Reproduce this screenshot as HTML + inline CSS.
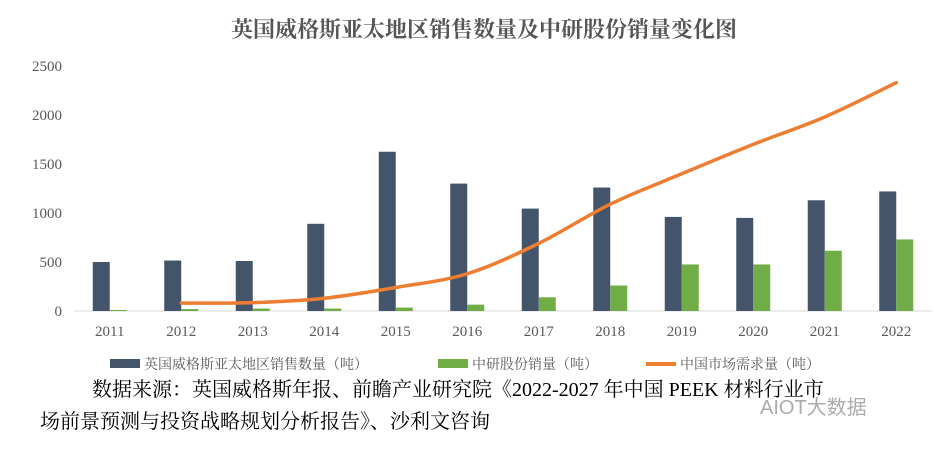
<!DOCTYPE html>
<html><head><meta charset="utf-8"><style>
body{margin:0;background:#fff;width:937px;height:447px;overflow:hidden;font-family:"Liberation Serif","Noto Serif CJK SC",serif}
</style></head><body>
<svg width="937" height="447" xmlns="http://www.w3.org/2000/svg">
<text x="484" y="37" text-anchor="middle" font-size="22" font-weight="bold" fill="#555">英国威格斯亚太地区销售数量及中研股份销量变化图</text>
<g id="axes"></g><g id="bars"></g><g id="line"></g>
<g font-size="14" fill="#595959">
<rect x="110" y="359" width="30" height="9" fill="#44546a"/>
<text x="144" y="369">英国威格斯亚太地区销售数量（吨）</text>
<rect x="438" y="359" width="30" height="9" fill="#70ad47"/>
<text x="472" y="369">中研股份销量（吨）</text>
<line x1="646" y1="364" x2="676" y2="364" stroke="#ed7d31" stroke-width="4"/>
<text x="680" y="369">中国市场需求量（吨）</text>
</g>
<text x="92" y="396" font-size="20" fill="#000">数据来源：英国威格斯年报、前瞻产业研究院《2022-2027 年中国 PEEK 材料行业市</text>
<text x="40" y="428" font-size="20" fill="#000">场前景预测与投资战略规划分析报告》、沙利文咨询</text>
<text x="760" y="414" font-size="20" fill="#888" opacity="0.7" font-family="Liberation Sans,Noto Sans CJK SC,sans-serif">AIOT大数据</text>
</svg>
<script>
const years=["2011","2012","2013","2014","2015","2016","2017","2018","2019","2020","2021","2022"];
const vicat=[500,515,510,890,1625,1300,1045,1260,960,950,1130,1220];
const zhongyan=[10,20,25,25,35,65,140,260,475,475,615,730];
const demand=[null,80,85,130,240,380,690,1090,1400,1700,1980,2330];
const yTicks=[0,500,1000,1500,2000,2500];
const NS="http://www.w3.org/2000/svg";
const x0=74,step=71.5,y0=311,yMax=2500,ph=245;
const X=i=>x0+step*(i+0.5), Y=v=>y0-v/yMax*ph;
function mk(t,a,p){const e=document.createElementNS(NS,t);for(const k in a)e.setAttribute(k,a[k]);p.appendChild(e);return e;}
const ax=document.getElementById('axes'),bg=document.getElementById('bars'),lg=document.getElementById('line');
yTicks.forEach(v=>{const t=mk('text',{x:62,y:Y(v)+5,'text-anchor':'end','font-size':15,fill:'#595959'},ax);t.textContent=v;

});
const base=mk('line',{x1:x0,x2:x0+step*12,y1:y0,y2:y0,stroke:'#d9d9d9','stroke-width':1},ax);


years.forEach((y,i)=>{const t=mk('text',{x:X(i),y:336,'text-anchor':'middle','font-size':15,fill:'#595959'},ax);t.textContent=y;


const b=mk('rect',{x:X(i)-17,y:Y(vicat[i]),width:17,height:y0-Y(vicat[i]),fill:'#44546a'},bg);


const g=mk('rect',{x:X(i),y:Y(zhongyan[i]),width:17,height:y0-Y(zhongyan[i]),fill:'#70ad47'},bg);

});
const pts=[];demand.forEach((v,i)=>{if(v!=null)pts.push([X(i),Y(v)]);});
let d='M'+pts[0][0]+','+pts[0][1];
for(let i=1;i<pts.length;i++){const p0=pts[i-2]||pts[i-1],p1=pts[i-1],p2=pts[i],p3=pts[i+1]||p2;
d+=` C${p1[0]+(p2[0]-p0[0])/6},${p1[1]+(p2[1]-p0[1])/6} ${p2[0]-(p3[0]-p1[0])/6},${p2[1]-(p3[1]-p1[1])/6} ${p2[0]},${p2[1]}`;}
const l=mk('path',{d:d,fill:'none',stroke:'#ed7d31','stroke-width':3.5,'stroke-linecap':'round'},lg);


</script>
</body></html>
